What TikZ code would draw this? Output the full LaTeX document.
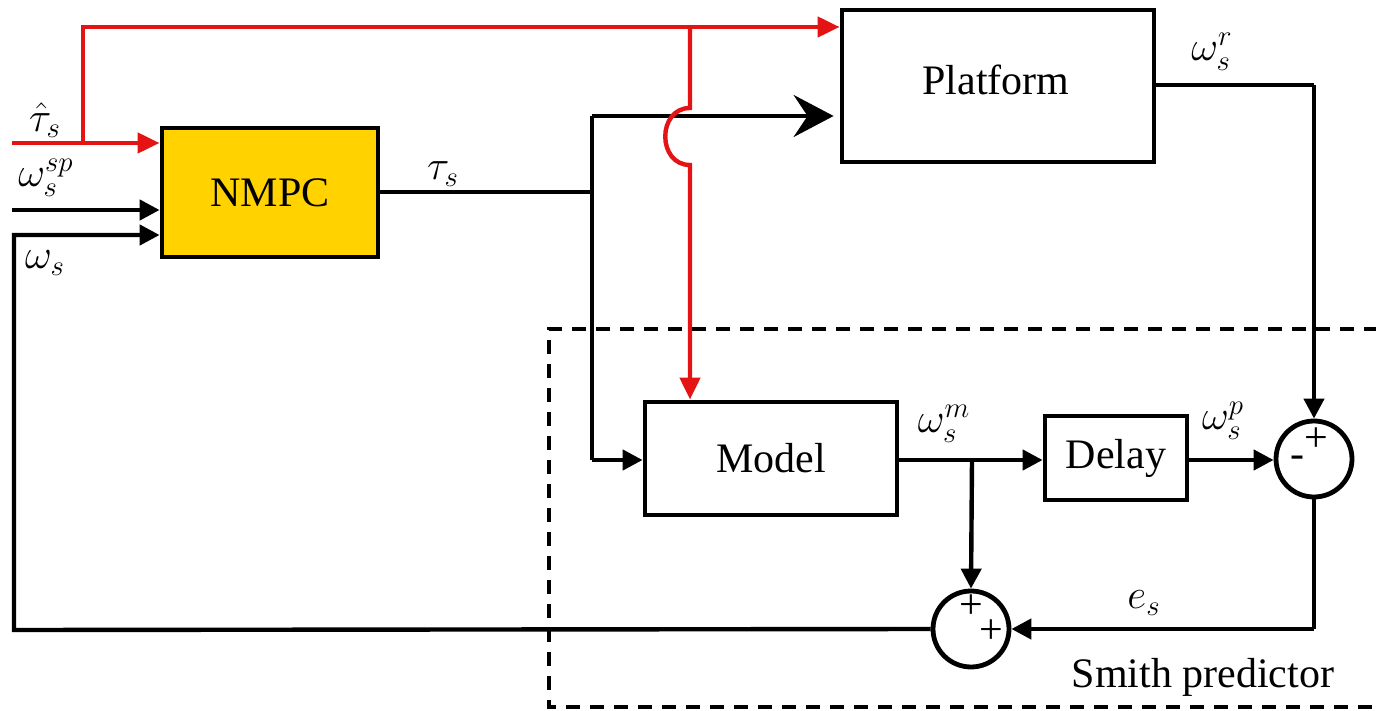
\documentclass[tikz,border=0pt]{standalone}
\usepackage{fontspec}
\setmainfont{Liberation Serif}
\usetikzlibrary{arrows.meta}
\definecolor{nmpcfill}{RGB}{255,210,0}
\definecolor{sigred}{RGB}{228,20,20}
\begin{document}
\begin{tikzpicture}[x=0.5pt,y=-0.5pt,
  every node/.style={font=\rmfamily\fontsize{21}{25}\selectfont, inner sep=0pt},
  blockbox/.style={draw, line width=2.4pt, minimum width=#1, anchor=center},
  sumnode/.style={draw, circle, line width=2.4pt, minimum size=38pt},
  sig/.style={line width=2.2pt},
  redsig/.style={line width=2.2pt, draw=sigred},
  arr/.style={-{Triangle[length=10pt,width=10pt]}},
  redarr/.style={-{Triangle[length=11pt,width=10pt,color=sigred]}},
  bigarr/.style={-{Stealth[length=20pt,width=21pt,inset=7pt]}},
  smithbox/.style={line width=2.2pt, dash pattern=on 7pt off 5pt}]
\useasboundingbox (0,0) rectangle (1376,711);
\fill[white] (0,0) rectangle (1376,711);

% blocks
\node[blockbox=108pt, minimum height=64.5pt, fill=nmpcfill] (nmpc) at (270,192.5) {NMPC};
\node[blockbox=156pt, minimum height=76pt] (plat) at (998,86) {};
\node (plattxt) at (996,80) {Platform};
\node[blockbox=126pt, minimum height=56.5pt] (model) at (771,458.5) {Model};
\node[blockbox=71pt, minimum height=42pt] (delay) at (1116,458) {Delay};
\node[sumnode] (sum1) at (1314,459) {};
\node[sumnode] (sum2) at (971,629) {};

% signs
\node (s1p) at (1316,440) {+};
\node (s1m) at (1297,462) {-};
\node (s2p) at (971,607) {+};
\node (s2q) at (991,632) {+};

% coordinates
\coordinate (tin) at (12,143);
\coordinate (tup) at (83,143);
\coordinate (ttop) at (83,27);
\coordinate (rbr) at (690,27);
\coordinate (jtop) at (690,108);
\coordinate (jbot) at (690,165);
\coordinate (wspin) at (12,210);
\coordinate (fbu) at (14,235);
\coordinate (fbl) at (14,630);
\coordinate (tj) at (592,192);
\coordinate (tj1) at (592,116);
\coordinate (tj2) at (592,460);
\coordinate (pr) at (1314,85);
\coordinate (mj) at (972,460);
\coordinate (er) at (1314,629);
\coordinate (dtr) at (1378,329);
\coordinate (dtl) at (549,329);
\coordinate (dbl) at (549,707);
\coordinate (dbr) at (1378,707);

% Smith predictor frame
\draw[smithbox] (dtr) -- (dtl) -- (dbl) -- (dbr);

% black signals
\draw[sig,arr] (wspin) -- (nmpc.west |- wspin);
\draw[sig] (nmpc.east |- tj) -- (tj);
\draw[sig] (tj1) -- (tj2);
\draw[sig,bigarr] (tj1) -- ([xshift=-3pt]plat.west |- tj1);
\draw[sig,arr] (tj2) -- (model.west |- tj2);
\draw[sig] (plat.east |- pr) -- (pr);
\draw[sig,arr] (pr) -- (sum1.north);
\draw[sig,arr] (model.east |- mj) -- (delay.west |- mj);
\draw[sig,arr] (mj) -- (sum2.north);
\draw[sig,arr] (delay.east |- mj) -- (sum1.west |- mj);
\draw[sig] (sum1.south) -- (er);
\draw[sig,arr] (er) -- (sum2.east);
\draw[sig,arr] (sum2.west) -- (fbl) -- (fbu) -- (nmpc.west |- fbu);

% red signals
\draw[redsig,redarr] (tin) -- (nmpc.west |- tin);
\draw[redsig,redarr] (tup) -- (ttop) -- (plat.west |- ttop);
\draw[redsig,redarr] (rbr) -- (jtop) .. controls (657,108) and (657,165) .. (jbot) -- (model.north -| rbr);

% labels
\node (ltauhat) at (45,120) {$\hat{\tau}_s$};
\node (lwsp) at (46,178) {$\omega_s^{sp}$};
\node (lws) at (45,263) {$\omega_s$};
\node (ltaus) at (443,174) {$\tau_s$};
\node (lwr) at (1212,52) {$\omega_s^{r}$};
\node (lwm) at (944,424) {$\omega_s^{m}$};
\node (lwp) at (1223,421) {$\omega_s^{p}$};
\node (les) at (1144,603) {$e_s$};
\node[anchor=base] (lsmith) at (1203,687) {Smith predictor};
\end{tikzpicture}
\end{document}
